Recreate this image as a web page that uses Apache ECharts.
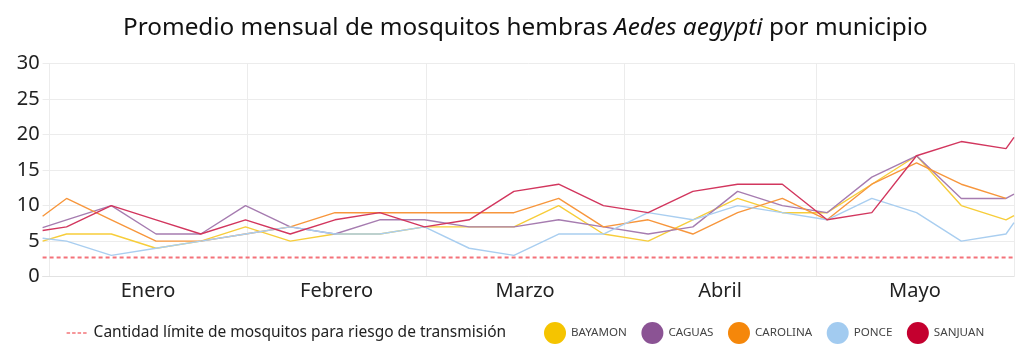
<!DOCTYPE html>
<html>
<head>
<meta charset="utf-8">
<script src="https://cdn.jsdelivr.net/npm/echarts@6/dist/echarts.min.js"></script>
<style>
html,body{margin:0;padding:0;background:#fff;}
#chart{width:1024px;height:359px;}
</style>
</head>
<body>
<div id="chart"></div>
<script>
// x positions: days since 1 January (axis runs from 31 Dec to 1 Jun)
const weekDays = [-1, 2.75, 9.75, 16.75, 23.75, 30.75, 37.75, 44.75, 51.75, 58.75, 65.75, 72.75, 79.75, 86.75, 93.75, 100.75, 107.75, 114.75, 121.75, 128.75, 135.75, 142.75, 149.75, 151];
const monthNames = ['Enero', 'Febrero', 'Marzo', 'Abril', 'Mayo'];
const monthMid = [15.5, 45, 74.5, 105, 135.5];
const monthStart = [0, 31, 59, 90, 120, 151];
const yTicks = [0, 5, 10, 15, 20, 25, 30];

const bayamon  = [5.0, 6, 6, 4, 5, 7, 5, 6, 6, 7, 7, 7, 10, 6, 5, 8, 11, 9, 9, 13, 17, 10, 8, 8.6];
const caguas   = [6.9, 8, 10, 6, 6, 10, 7, 6, 8, 8, 7, 7, 8, 7, 6, 7, 12, 10, 9, 14, 17, 11, 11, 11.6];
const carolina = [8.5, 11, 8, 5, 5, 6, 7, 9, 9, 9, 9, 9, 11, 7, 8, 6, 9, 11, 8, 13, 16, 13, 11, null];
const ponce    = [5.4, 5, 3, 4, 5, 6, 7, 6, 6, 7, 4, 3, 6, 6, 9, 8, 10, 9, 8, 11, 9, 5, 6, 7.6];
const sanjuan  = [6.5, 7, 10, 8, 6, 8, 6, 8, 9, 7, 8, 12, 13, 10, 9, 12, 13, 13, 8, 9, 17, 19, 18, 19.6];
const threshold = 2.7;
const thresholdName = 'Cantidad límite de mosquitos para riesgo de transmisión';

const seriesNames = ['BAYAMON', 'CAGUAS', 'CAROLINA', 'PONCE', 'SANJUAN'];
const seriesValues = [bayamon, caguas, carolina, ponce, sanjuan];
const seriesColors = ['#f5c400', '#8b5394', '#f5870a', '#a2cbf0', '#c4002f'];
const lineColors = ['#f7cd3a', '#a67cb0', '#f7963c', '#a9cef0', '#d2365e'];

const FONT = 'Noto Sans';

const chart = echarts.init(document.getElementById('chart'), null, {renderer: 'canvas'});

const lineSeries = seriesNames.map((n, i) => ({
  name: n,
  type: 'line',
  showSymbol: false,
  symbol: 'circle',
  connectNulls: false,
  data: weekDays.map((d, j) => [d, seriesValues[i][j]]),
  itemStyle: {color: seriesColors[i]},
  lineStyle: {color: lineColors[i], width: 1.4},
  emphasis: {disabled: true},
  z: 3
}));

const option = {
  animation: false,
  backgroundColor: '#ffffff',
  title: {
    left: 118,
    top: 11,
    text: '{a|Promedio mensual de mosquitos hembras }{b|Aedes aegypti}{a| por municipio}',
    textStyle: {
      rich: {
        a: {fontFamily: FONT, fontSize: 24.3, fontWeight: 'normal', color: '#111'},
        b: {fontFamily: FONT, fontSize: 24.3, fontWeight: 'normal', color: '#111', fontStyle: 'italic'}
      }
    }
  },
  grid: {left: 42.6, right: 10, top: 63.3, bottom: 82.3, containLabel: false},
  legend: [
    {
      data: [thresholdName],
      left: 61,
      top: 320,
      itemWidth: 22,
      itemHeight: 14,
      itemStyle: {opacity: 0, borderWidth: 0},
      lineStyle: {color: '#ee3036', width: 1.2, type: [3.5, 2]},
      textStyle: {fontFamily: FONT, fontSize: 15.5, color: '#222'}
    },
    {
      data: seriesNames,
      left: 539,
      top: 317,
      icon: 'circle',
      itemWidth: 22,
      itemHeight: 22,
      itemGap: 14.5,
      textStyle: {fontFamily: FONT, fontSize: 11.6, color: '#444'}
    }
  ],
  xAxis: {
    type: 'value',
    min: -1,
    max: 151,
    axisLine: {show: true, lineStyle: {color: '#e2e2e2', width: 1}},
    axisTick: {show: false, customValues: monthStart},
    axisLabel: {
      customValues: monthMid,
      margin: 5,
      fontFamily: FONT,
      fontSize: 20,
      color: '#222',
      formatter: v => monthNames[monthMid.indexOf(v)] || ''
    },
    splitLine: {show: true, lineStyle: {color: '#ececec', width: 1}}
  },
  yAxis: {
    type: 'value',
    min: 0,
    max: 30,
    interval: 5,
    axisLine: {show: false},
    axisTick: {show: false},
    axisLabel: {
      margin: 3,
      fontFamily: FONT,
      fontSize: 20,
      color: '#222',
      formatter: v => yTicks.indexOf(v) >= 0 ? String(v) : ''
    },
    splitLine: {show: true, lineStyle: {color: '#ececec', width: 1}}
  },
  series: lineSeries.concat([{
    name: thresholdName,
    type: 'line',
    showSymbol: false,
    symbol: 'none',
    data: [[-1, threshold], [151, threshold]],
    itemStyle: {color: '#f0505a'},
    lineStyle: {color: '#f4727a', width: 2, type: [4, 3]},
    emphasis: {disabled: true},
    z: 2
  }])
};

chart.setOption(option);
</script>
</body>
</html>
